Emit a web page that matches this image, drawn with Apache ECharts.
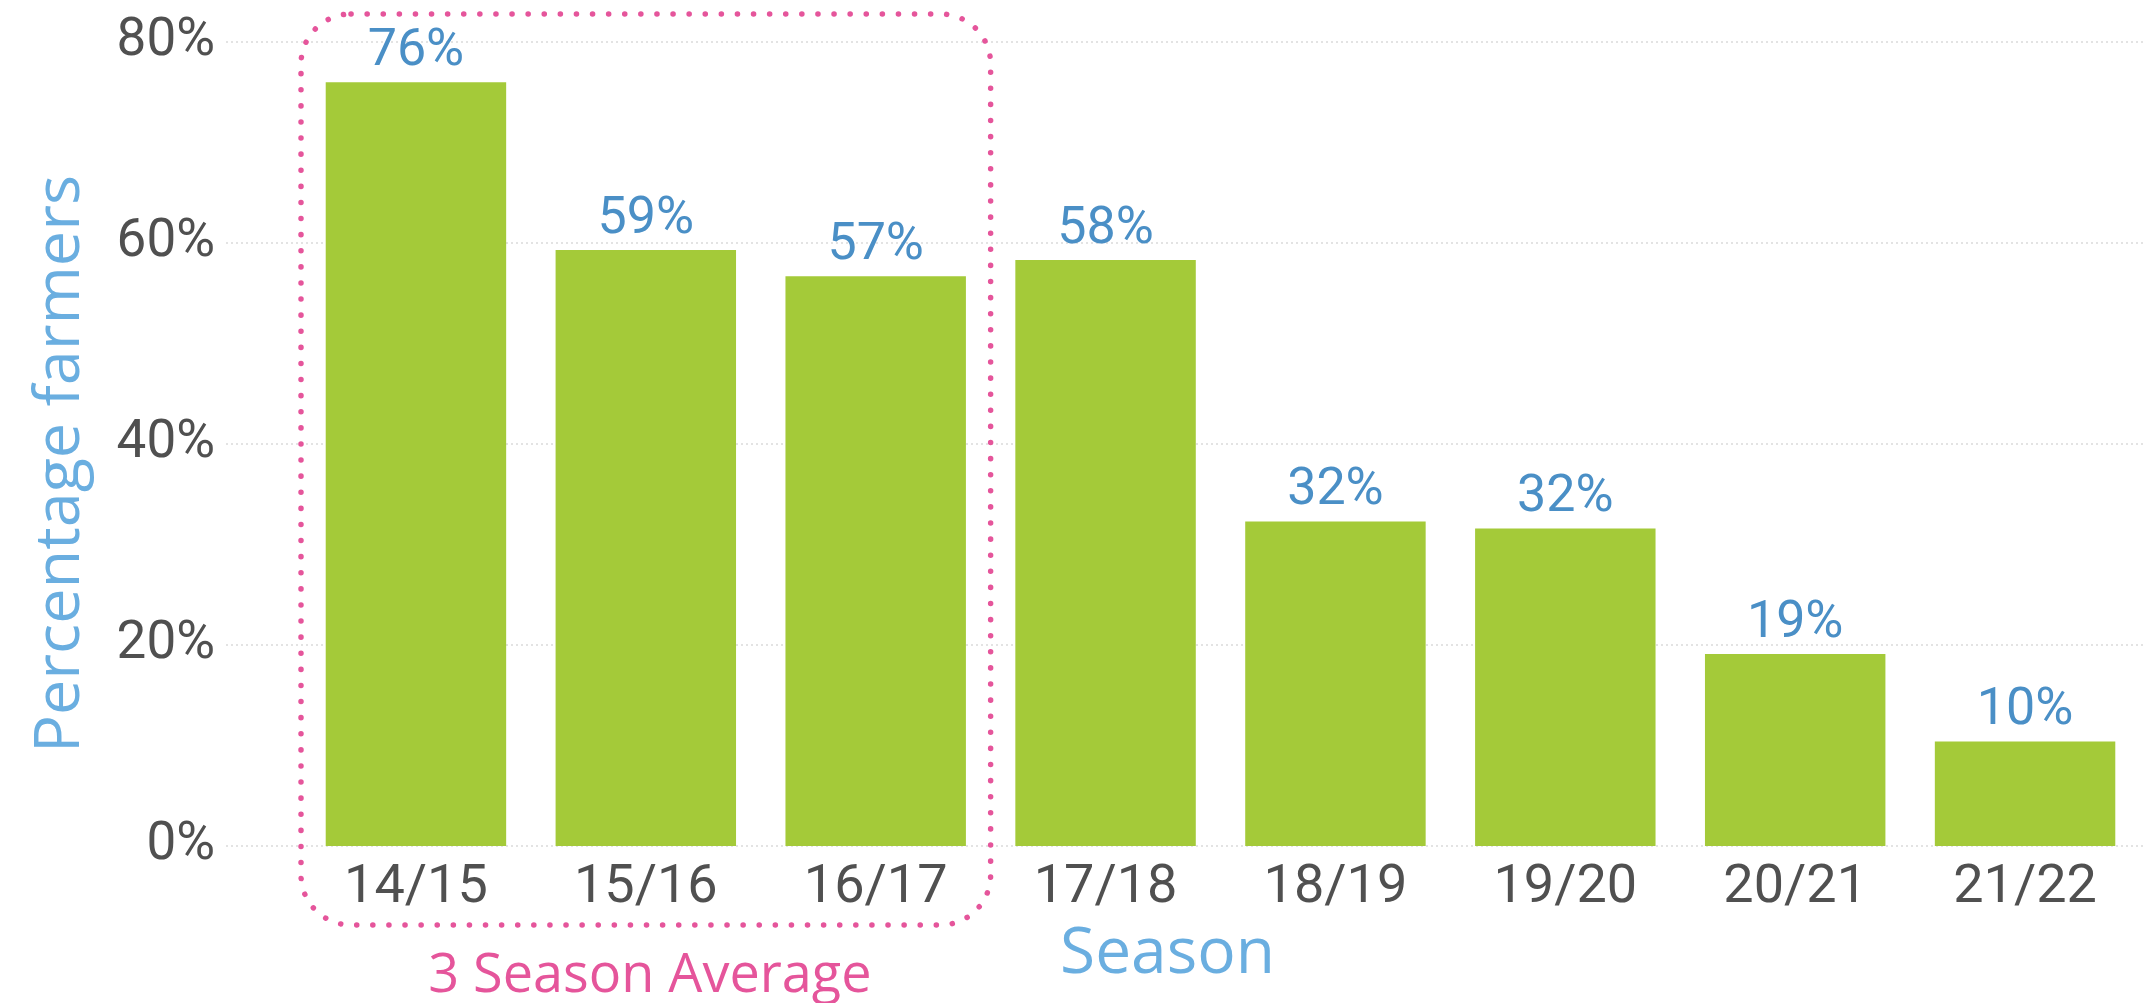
<!DOCTYPE html>
<html>
<head>
<meta charset="utf-8">
<style>
    html, body { margin: 0; padding: 0; background: #fff; }
    #main { width: 2146px; height: 1003px; }
</style>
<script src="https://cdn.jsdelivr.net/npm/echarts@6/dist/echarts.min.js"></script>
</head>
<body>
<div id="main"></div>
<script>
const seasons = ['14/15', '15/16', '16/17', '17/18', '18/19', '19/20', '20/21', '21/22']
const farmerPct = [76, 59.3, 56.7, 58.3, 32.3, 31.6, 19.1, 10.4]
const yMin = 0
const yMax = 80
const yStep = 20
const groupedSeasons = ['14/15', '15/16', '16/17']
const groupLabel = '3 Season Average'

const myChart = echarts.init(document.getElementById('main'))

const gridTop = 42
const gridBottom = 157

let option = {
    animation: false,
    grid: [
        // bars
        { left: 301, right: 6, top: gridTop, bottom: gridBottom },
        // background split lines + tick labels (reach further left than the bars)
        { left: 226, right: 0, top: gridTop, bottom: gridBottom }
    ],
    xAxis: [{
        type: 'category',
        gridIndex: 0,
        data: seasons,
        axisLine: { show: false },
        axisTick: { show: false },
        axisLabel: {
            color: '#505050',
            fontSize: 54,
            fontFamily: 'Roboto',
            margin: 15
        },
        name: 'Season',
        nameLocation: 'middle',
        nameGap: 77,
        nameTextStyle: {
            color: '#6aaee0',
            fontSize: 64,
            fontFamily: 'Open Sans',
            padding: [0, 106, 0, 0]
        }
    }, {
        type: 'value',
        gridIndex: 1,
        show: false
    }],
    yAxis: [{
        type: 'value',
        gridIndex: 0,
        min: yMin,
        max: yMax,
        interval: yStep,
        show: false
    }, {
        type: 'value',
        gridIndex: 1,
        min: yMin,
        max: yMax,
        interval: yStep,
        axisLine: { show: false },
        axisTick: { show: false },
        axisLabel: {
            color: '#505050',
            fontSize: 53,
            fontFamily: 'Roboto',
            margin: 11,
            formatter: '{value}%'
        },
        splitLine: {
            lineStyle: {
                color: '#e3e3e3',
                width: 2,
                type: [2, 3]
            }
        },
        name: 'Percentage farmers',
        nameLocation: 'middle',
        nameRotate: 90,
        nameGap: 133,
        nameTextStyle: {
            color: '#6aaee0',
            fontSize: 63,
            fontFamily: 'Open Sans',
            padding: [0, 40, 0, 0]
        }
    }],
    series: [{
        type: 'bar',
        xAxisIndex: 0,
        yAxisIndex: 0,
        data: farmerPct,
        barCategoryGap: '21.5%',
        itemStyle: { color: '#a4ca39' },
        label: {
            show: true,
            position: 'top',
            distance: 4,
            color: '#4a8fc6',
            fontSize: 52,
            fontFamily: 'Roboto',
            formatter: (p) => Math.round(p.value) + '%'
        }
    }]
}

myChart.setOption(option)

// dotted rounded box around the first three seasons, with its caption below
function drawGroupBox() {
    const first = myChart.convertToPixel({ xAxisIndex: 0 }, groupedSeasons[0])
    const last = myChart.convertToPixel({ xAxisIndex: 0 }, groupedSeasons[groupedSeasons.length - 1])
    const step = myChart.convertToPixel({ xAxisIndex: 0 }, seasons[1]) - myChart.convertToPixel({ xAxisIndex: 0 }, seasons[0])
    const x0 = first - step / 2
    const x1 = last + step / 2
    const yTop = gridTop - 28
    const yBottom = 925

    myChart.setOption({
        graphic: [{
            type: 'rect',
            shape: { x: x0, y: yTop, width: x1 - x0, height: yBottom - yTop, r: 50 },
            style: {
                fill: 'none',
                stroke: '#e5559b',
                lineWidth: 5.5,
                lineDash: [0.1, 16],
                lineCap: 'round'
            },
            z: 10
        }, {
            type: 'text',
            x: (x0 + x1) / 2 + 4,
            y: 977,
            style: {
                text: groupLabel,
                fill: '#e5559b',
                fontSize: 54,
                fontFamily: 'Open Sans',
                align: 'center',
                verticalAlign: 'middle'
            },
            z: 10
        }]
    })
}

drawGroupBox()
</script>
</body>
</html>
